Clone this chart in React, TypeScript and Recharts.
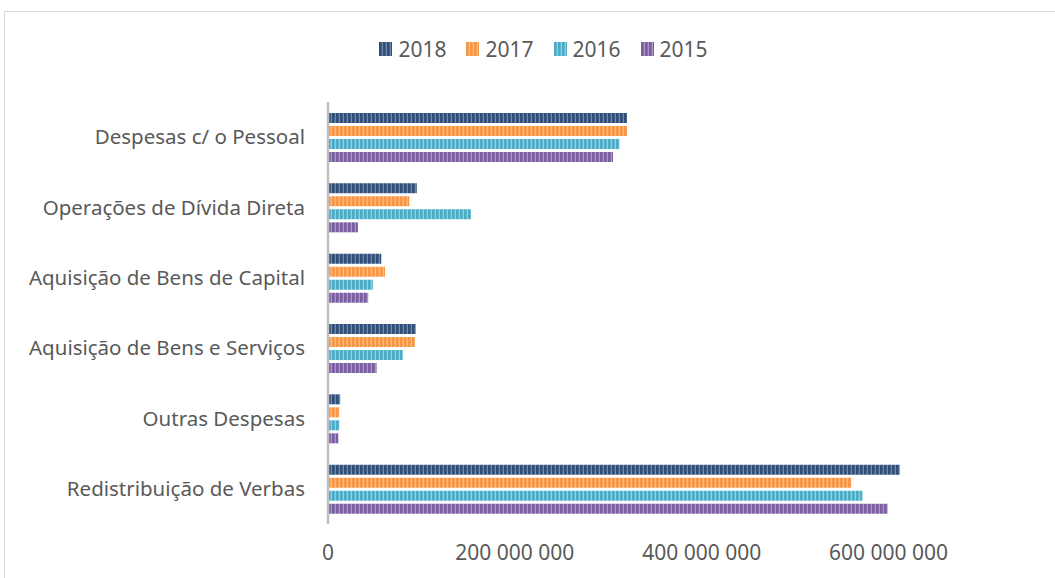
import { Bar, BarChart, XAxis, YAxis } from "recharts"

const categories = [
    "Despesas c/ o Pessoal",
    "Operações de Dívida Direta",
    "Aquisição de Bens de Capital",
    "Aquisição de Bens e Serviços",
    "Outras Despesas",
    "Redistribuição de Verbas",
]

const years = ["2018", "2017", "2016", "2015"]

const values2018 = [320000000, 95000000, 57000000, 94000000, 13000000, 612000000]
const values2017 = [320000000, 87000000, 61000000, 93000000, 12000000, 560000000]
const values2016 = [312000000, 153000000, 48000000, 80000000, 12000000, 572000000]
const values2015 = [305000000, 32000000, 43000000, 52000000, 11000000, 599000000]

const xTicks = [0, 200000000, 400000000, 600000000]

const colors: Record<string, [string, string]> = {
    "2018": ["#2f4e78", "#7189ab"],
    "2017": ["#f79646", "#fbbb85"],
    "2016": ["#4bacc6", "#92cfdf"],
    "2015": ["#7b5e9f", "#ab97c6"],
}

const data = categories.map((name, i) => ({
    name,
    "2018": values2018[i],
    "2017": values2017[i],
    "2016": values2016[i],
    "2015": values2015[i],
}))

const font = "'Noto Sans', sans-serif"
const textColor = "#595959"

const fmt = (v: number) => v.toLocaleString("en-US").replace(/,/g, " ")

function Stripes({ prefix }: { prefix: string }) {
    return (
        <defs>
            {years.map((y) => (
                <pattern key={y} id={`${prefix}-${y}`} patternUnits="userSpaceOnUse" width={4} height={10}>
                    <rect x={0} y={0} width={4} height={10} fill={colors[y][0]} />
                    <rect x={2.7} y={0} width={1.3} height={10} fill={colors[y][1]} />
                </pattern>
            ))}
        </defs>
    )
}

function LegendRow() {
    return (
        <div
            style={{
                position: "absolute",
                top: 35,
                left: 0,
                width: 1087,
                display: "flex",
                justifyContent: "center",
                gap: 20,
                fontFamily: font,
                fontSize: 21,
                color: textColor,
            }}
        >
            {years.map((y) => (
                <div key={y} style={{ display: "flex", alignItems: "center", gap: 6 }}>
                    <svg width={13} height={14}>
                        <Stripes prefix="lg" />
                        <rect width={13} height={14} fill={`url(#lg-${y})`} />
                    </svg>
                    <span>{y}</span>
                </div>
            ))}
        </div>
    )
}

export default function App() {
    return (
        <div
            style={{
                position: "fixed",
                left: 0,
                top: 0,
                width: 1055,
                height: 578,
                overflow: "hidden",
                background: "#fff",
            }}
        >
            <div
                style={{
                    position: "absolute",
                    left: 4,
                    top: 11,
                    width: 1100,
                    height: 620,
                    border: "1px solid #d9d9d9",
                }}
            />
            <LegendRow />
            <div style={{ position: "absolute", left: 0, top: 0 }}>
                <BarChart
                    width={1055}
                    height={578}
                    data={data}
                    layout="vertical"
                    margin={{ top: 102, right: 73, bottom: 14, left: 0 }}
                    barSize={10}
                    barGap={3}
                >
                    <Stripes prefix="bar" />
                    <XAxis
                        type="number"
                        domain={[0, 700000000]}
                        ticks={xTicks}
                        tickFormatter={fmt}
                        axisLine={false}
                        tickLine={false}
                        tickSize={0}
                        tickMargin={21}
                        height={40}
                        tick={{ fill: textColor, fontSize: 21, fontFamily: font }}
                    />
                    <YAxis
                        type="category"
                        dataKey="name"
                        width={328}
                        tickLine={false}
                        tickSize={0}
                        tickMargin={23}
                        axisLine={{ stroke: "#bfbfbf", strokeWidth: 2.5 }}
                        tick={{ fill: textColor, fontSize: 20.5, fontFamily: font }}
                        interval={0}
                    />
                    {years.map((y) => (
                        <Bar key={y} dataKey={y} fill={`url(#bar-${y})`} isAnimationActive={false} />
                    ))}
                </BarChart>
            </div>
        </div>
    )
}
